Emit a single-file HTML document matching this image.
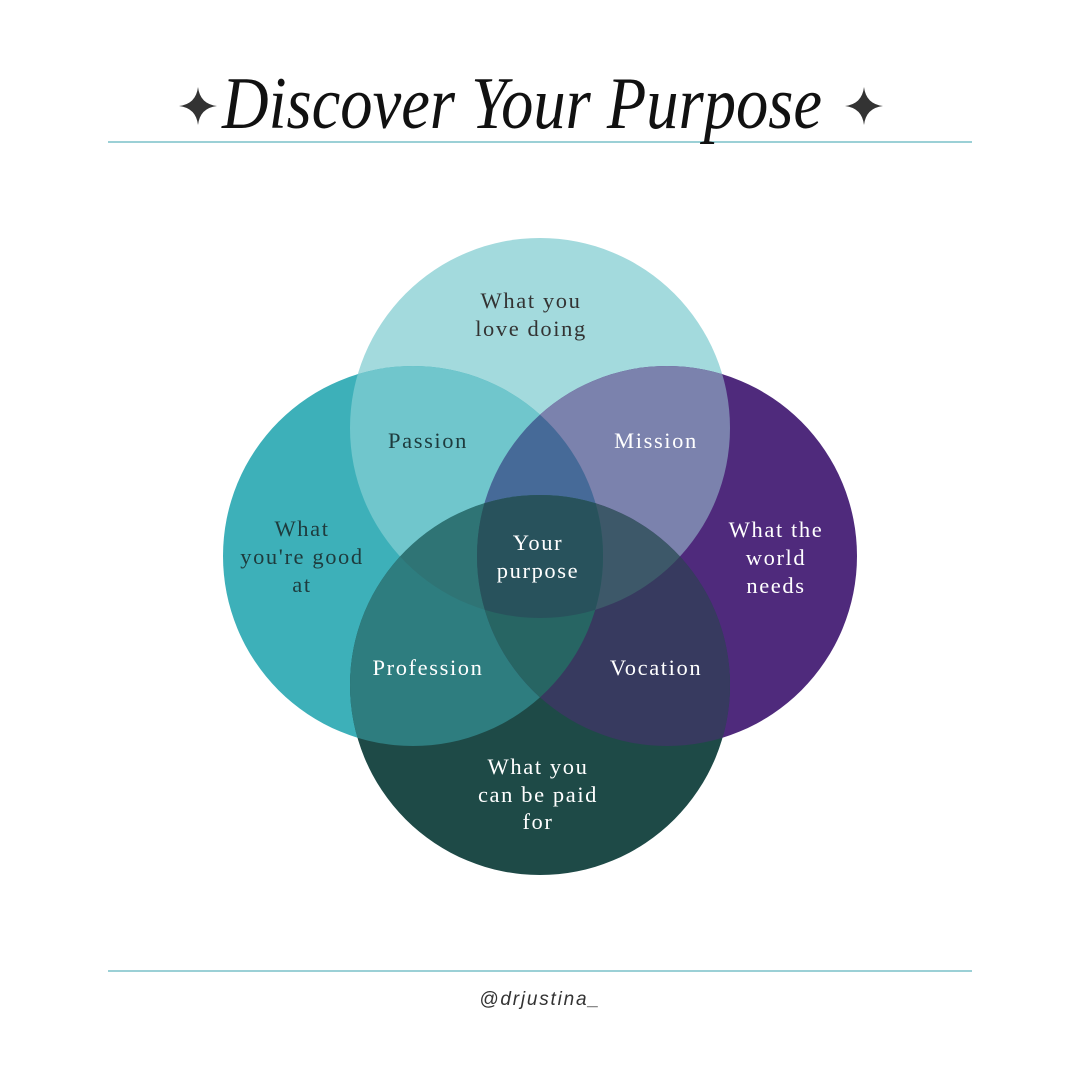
<!DOCTYPE html>
<html><head><meta charset="utf-8"><style>
html,body{margin:0;padding:0;background:#fff;width:1080px;height:1080px;overflow:hidden}
svg{display:block}
</style></head><body>
<svg width="1080" height="1080" viewBox="0 0 1080 1080" xmlns="http://www.w3.org/2000/svg">
<defs>
<clipPath id="T"><circle cx="540" cy="428" r="190"/></clipPath>
<clipPath id="L"><circle cx="413" cy="556" r="190"/></clipPath>
<clipPath id="R"><circle cx="667" cy="556" r="190"/></clipPath>
<clipPath id="B"><circle cx="540" cy="685" r="190"/></clipPath>
</defs>
<rect width="1080" height="1080" fill="#fff"/>
<line x1="108" y1="142" x2="972" y2="142" stroke="#5fb3bd" stroke-width="1.2"/>
<line x1="108" y1="971" x2="972" y2="971" stroke="#5fb3bd" stroke-width="1.2"/>
<path d="M198 87 Q200 104 217 106 Q200 108 198 125 Q196 108 179 106 Q196 104 198 87Z" fill="#333"/>
<path d="M864 87 Q866 104 883 106 Q866 108 864 125 Q862 108 845 106 Q862 104 864 87Z" fill="#333"/>
<text x="522" y="128" text-anchor="middle" font-family="Liberation Serif, serif" font-style="italic" font-size="74" fill="#111" textLength="600" lengthAdjust="spacingAndGlyphs">Discover Your Purpose</text>

<circle cx="540" cy="428" r="190" fill="#a3dadd"/>
<circle cx="413" cy="556" r="190" fill="#3db0b9"/>
<circle cx="667" cy="556" r="190" fill="#4f2a7c"/>
<circle cx="540" cy="685" r="190" fill="#1e4a47"/>
<g clip-path="url(#T)"><rect width="1080" height="1080" fill="#70c6cc" clip-path="url(#L)"/></g>
<g clip-path="url(#T)"><rect width="1080" height="1080" fill="#7b82ad" clip-path="url(#R)"/></g>
<g clip-path="url(#B)"><rect width="1080" height="1080" fill="#2e7d7f" clip-path="url(#L)"/></g>
<g clip-path="url(#B)"><rect width="1080" height="1080" fill="#373a5f" clip-path="url(#R)"/></g>
<g clip-path="url(#T)"><g clip-path="url(#L)"><rect width="1080" height="1080" fill="#466a98" clip-path="url(#R)"/></g></g>
<g clip-path="url(#T)"><g clip-path="url(#L)"><rect width="1080" height="1080" fill="#2f7475" clip-path="url(#B)"/></g></g>
<g clip-path="url(#T)"><g clip-path="url(#R)"><rect width="1080" height="1080" fill="#3d5869" clip-path="url(#B)"/></g></g>
<g clip-path="url(#B)"><g clip-path="url(#L)"><rect width="1080" height="1080" fill="#276563" clip-path="url(#R)"/></g></g>
<g clip-path="url(#T)"><g clip-path="url(#L)"><g clip-path="url(#R)"><rect width="1080" height="1080" fill="#28525c" clip-path="url(#B)"/></g></g></g>

<g font-family="Liberation Serif, serif" font-size="22.5" letter-spacing="1.6" text-anchor="middle">
<text x="531" y="308" fill="#333">What you</text>
<text x="531" y="336" fill="#333">love doing</text>
<text x="428" y="448" fill="#1e3b3d">Passion</text>
<text x="656" y="448" fill="#fff">Mission</text>
<text x="302" y="536" fill="#1e3b3d">What</text>
<text x="302" y="564" fill="#1e3b3d">you're good</text>
<text x="302" y="592" fill="#1e3b3d">at</text>
<text x="776" y="537" fill="#fff">What the</text>
<text x="776" y="565" fill="#fff">world</text>
<text x="776" y="593" fill="#fff">needs</text>
<text x="538" y="550" fill="#fff">Your</text>
<text x="538" y="578" fill="#fff">purpose</text>
<text x="428" y="675" fill="#fff">Profession</text>
<text x="656" y="675" fill="#fff">Vocation</text>
<text x="538" y="774" fill="#fff">What you</text>
<text x="538" y="802" fill="#fff">can be paid</text>
<text x="538" y="829" fill="#fff">for</text>
</g>
<text x="540" y="1005" text-anchor="middle" font-family="Liberation Sans, sans-serif" font-style="italic" font-size="19" letter-spacing="1.8" fill="#333">@drjustina_</text>
</svg>
</body></html>
